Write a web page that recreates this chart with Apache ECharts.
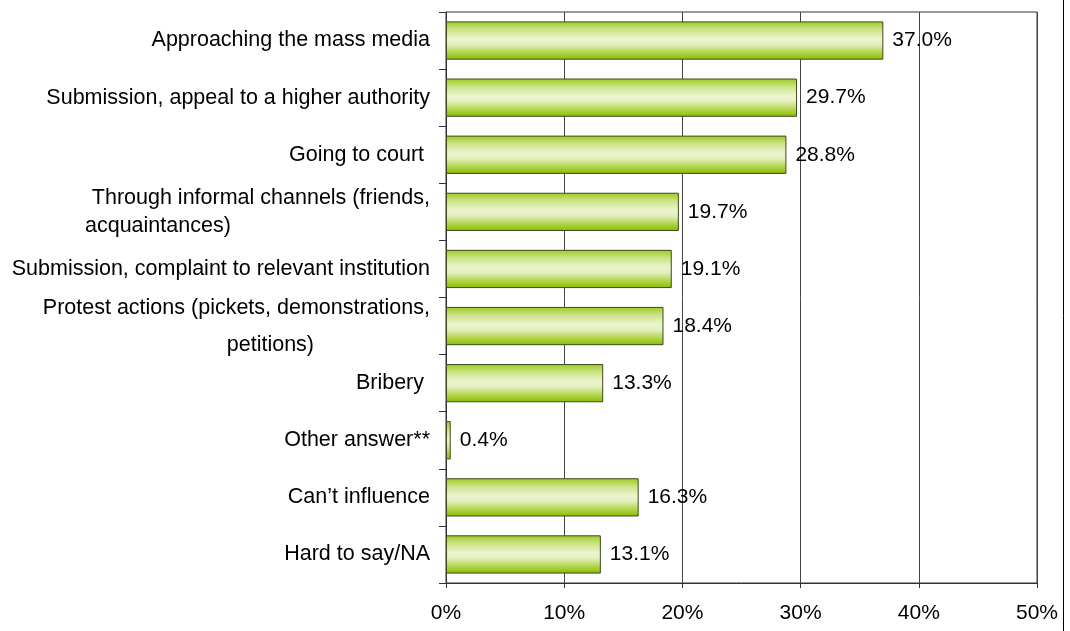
<!DOCTYPE html>
<html>
<head>
<meta charset="utf-8">
<script src="https://cdn.jsdelivr.net/npm/echarts@6/dist/echarts.min.js"></script>
<style>
  html, body { margin: 0; padding: 0; background: #fff; }
  #chart { width: 1070px; height: 631px; }
</style>
</head>
<body>
<div id="chart"></div>
<script>
// Ways of influencing decisions, share of respondents (%)
const categories = [
  'Approaching the mass media',
  'Submission, appeal to a higher authority',
  'Going to court ',
  'Through informal channels (friends,\nacquaintances)',
  'Submission, complaint to relevant institution',
  'Protest actions (pickets, demonstrations,\npetitions)',
  'Bribery ',
  'Other answer**',
  'Can\u2019t influence',
  'Hard to say/NA'
];
const values = [37.0, 29.7, 28.8, 19.7, 19.1, 18.4, 13.3, 0.4, 16.3, 13.1];
const xTicks = [0, 10, 20, 30, 40, 50];

const FONT = '"Liberation Sans", Arial, sans-serif';
const FS = 21;
const CAT_FS = 21.5;

const chart = echarts.init(document.getElementById('chart'));

// Two-line category labels: first line right-aligned, second line positioned by its own box
function categoryLabel(text) {
  if (text.startsWith('Through informal')) {
    return '{l1|Through informal channels (friends,}\n{acq|acquaintances)}';
  }
  if (text.startsWith('Protest actions')) {
    return '{l2|Protest actions (pickets, demonstrations,}\n{pet|petitions)}';
  }
  return text;
}

chart.setOption({
  backgroundColor: '#ffffff',
  animation: false,
  grid: {
    left: 446, right: 33, top: 12, bottom: 48,
    show: true, borderColor: '#333', borderWidth: 1,
    backgroundColor: 'transparent'
  },
  xAxis: {
    type: 'value',
    min: 0, max: 50, interval: 10,
    axisLine: { show: true, lineStyle: { color: '#333', width: 1 } },
    axisTick: { show: true, length: 5, lineStyle: { color: '#333' } },
    splitLine: { show: true, lineStyle: { color: '#444', width: 1 } },
    axisLabel: {
      color: '#000', fontFamily: FONT, fontSize: FS, margin: 20,
      formatter: v => xTicks.includes(v) ? v + '%' : ''
    }
  },
  yAxis: {
    type: 'category',
    inverse: true,
    data: categories,
    axisLine: { show: true, lineStyle: { color: '#333', width: 1 } },
    axisTick: { show: true, length: 7, alignWithLabel: false, lineStyle: { color: '#333' } },
    splitLine: { show: false },
    axisLabel: {
      color: '#000', fontFamily: FONT, fontSize: CAT_FS, margin: 16,
      formatter: categoryLabel,
      rich: {
        l1: { fontFamily: FONT, fontSize: CAT_FS, color: '#000', lineHeight: 28 },
        acq: { fontFamily: FONT, fontSize: CAT_FS, color: '#000', lineHeight: 28, width: 345, align: 'left' },
        l2: { fontFamily: FONT, fontSize: CAT_FS, color: '#000', lineHeight: 39, padding: [4, 0, 0, 0] },
        pet: { fontFamily: FONT, fontSize: CAT_FS, color: '#000', lineHeight: 39, align: 'right', padding: [0, 116, 0, 0] }
      }
    }
  },
  series: [{
    type: 'bar',
    data: values,
    barWidth: '67%',
    itemStyle: {
      borderColor: '#3d4a1c',
      borderWidth: 1,
      color: new echarts.graphic.LinearGradient(0, 0, 0, 1, [
        { offset: 0, color: '#9acb1e' },
        { offset: 0.2, color: '#c9e280' },
        { offset: 0.45, color: '#ebf4cf' },
        { offset: 0.6, color: '#e4efbf' },
        { offset: 0.8, color: '#b5d650' },
        { offset: 1, color: '#88bb00' }
      ])
    },
    label: {
      show: true,
      position: 'right',
      distance: 9,
      color: '#000',
      fontFamily: FONT,
      fontSize: FS,
      formatter: p => p.value.toFixed(1) + '%'
    }
  }],
  graphic: [{
    type: 'line',
    shape: { x1: 1063.5, y1: 0, x2: 1063.5, y2: 631 },
    style: { stroke: '#000', lineWidth: 1 }
  }]
});
</script>
</body>
</html>
